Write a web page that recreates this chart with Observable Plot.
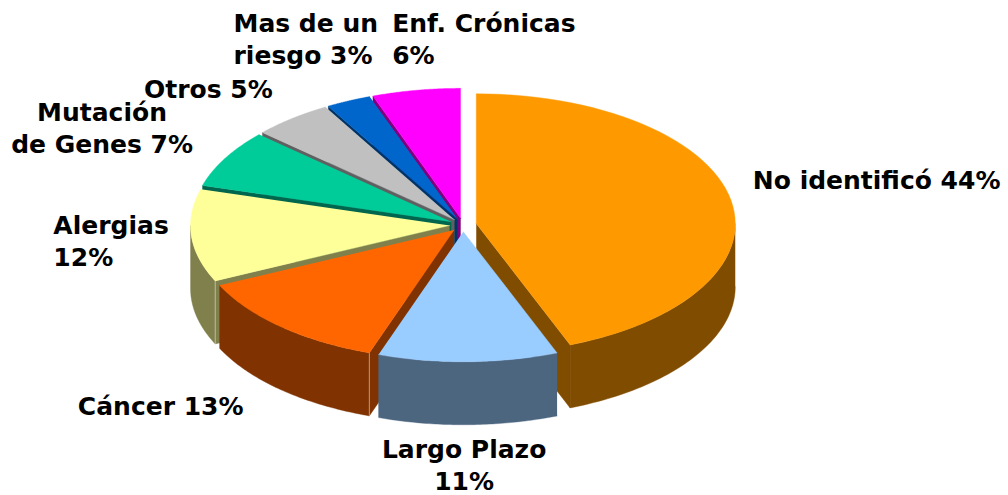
<!DOCTYPE html>
<html>
<head>
<meta charset="utf-8">
<script src="https://cdn.jsdelivr.net/npm/d3@7"></script>
<script src="https://cdn.jsdelivr.net/npm/@observablehq/plot@0.6"></script>
<style>
html,body{margin:0;padding:0;background:#fff}
svg{display:block}
</style>
</head>
<body>
<div id="chart"></div>
<script>
// Data (clockwise from 12 o'clock)
const categories = ["No identificó","Largo Plazo","Cáncer","Alergias","Mutación de Genes","Otros","Mas de un riesgo","Enf. Crónicas"];
const values = [44.1, 11.2, 12.7, 11.5, 7.2, 5, 2.8, 5.5];
const labels = ["No identificó 44%","Largo Plazo\n11%","Cáncer 13%","Alergias\n12%","Mutación\nde Genes 7%","Otros 5%","Mas de un\nriesgo 3%","Enf. Crónicas\n6%"];
const colors = ["#FF9900","#99CCFF","#FF6600","#FFFF99","#00CC99","#C0C0C0","#0066CC","#FF00FF"];

// Layout of the tilted pie
const W = 1008, H = 495;
const c0 = [462.5, 224.5], rx = 259, ry = 130, depth = 63, explode = 13.5;
const labelDx = [22, -4, -203, -138, -123, -148, -115, -24];
const labelDy = [-21, 102, 78, 4, -32, -31, -63, -53];
const labelAnchor = ["start","middle","start","start","middle","start","start","start"];

const total = d3.sum(values);
const rad = d => d * Math.PI / 180;
let acc = 0;
const slices = values.map((v, i) => {
  const a0 = acc / total * 360; acc += v;
  const a1 = acc / total * 360, mid = (a0 + a1) / 2;
  const cx = c0[0] + explode * Math.sin(rad(mid));
  const cy = c0[1] - explode * 0.5 * Math.cos(rad(mid));
  const c = d3.rgb(colors[i]);
  const wall = d3.rgb(c.r / 2, c.g / 2, c.b / 2).formatHex();
  const rim = a => [cx + rx * Math.sin(rad(a)), cy - ry * Math.cos(rad(a))];
  const arc = (s, e) => d3.range(0, 61).map(k => rim(s + (e - s) * k / 60));
  return {i, a0, a1, mid, cx, cy, wall, fill: colors[i], rim, arc};
});

const down = p => [p[0], p[1] + depth];
const poly = (pts, fill) => Plot.line(pts, {
  x: d => d[0], y: d => d[1], fill, stroke: fill, strokeWidth: 0.4, curve: "linear"
});

const marks = [];
// painter's order: back slices first, the two front slices last
[7, 6, 5, 4, 3, 2, 0, 1].forEach(idx => {
  const s = slices[idx], ctr = [s.cx, s.cy];
  // radial side walls that face the viewer
  if (s.a0 > 180 && s.a0 < 360) {
    const p = s.rim(s.a0);
    marks.push(poly([ctr, p, down(p), down(ctr)], s.wall));
  }
  if (s.a1 > 0 && s.a1 < 180) {
    const p = s.rim(s.a1);
    marks.push(poly([ctr, p, down(p), down(ctr)], s.wall));
  }
  // outer curved wall
  const f0 = Math.max(s.a0, 90), f1 = Math.min(s.a1, 270);
  if (f1 > f0) {
    const top = s.arc(f0, f1);
    marks.push(poly([...top, ...top.map(down).reverse()], s.wall));
    // light seam at the corner of the wall
    if (s.a0 > 180) {
      const p = s.rim(s.a0);
      marks.push(Plot.line([p, down(p)], {x: d => d[0], y: d => d[1], stroke: "#fff", strokeOpacity: 0.4, strokeWidth: 1}));
    }
  }
  // top face
  marks.push(poly([ctr, ...s.arc(s.a0, s.a1)], s.fill));
});

// labels anchored to the rim mid-point of each slice
labels.forEach((t, i) => {
  const s = slices[i];
  const x = c0[0] + (rx + explode) * Math.sin(rad(s.mid)) + labelDx[i];
  const y = c0[1] - (ry + explode / 2) * Math.cos(rad(s.mid)) + labelDy[i];
  marks.push(Plot.text([t], {
    x: () => x, y: () => y, text: d => d,
    textAnchor: labelAnchor[i], lineAnchor: "middle", lineHeight: 1.28,
    fontSize: 25, fontWeight: 700, fontFamily: "'DejaVu Sans', sans-serif", fill: "#000"
  }));
});

const chart = Plot.plot({
  width: W, height: H,
  margin: 0, marginTop: 0, marginRight: 0, marginBottom: 0, marginLeft: 0,
  x: {domain: [0, W], range: [0, W], axis: null},
  y: {domain: [0, H], range: [0, H], axis: null},
  style: {background: "#fff", overflow: "visible"},
  marks
});
document.getElementById("chart").append(chart);
</script>
</body>
</html>
